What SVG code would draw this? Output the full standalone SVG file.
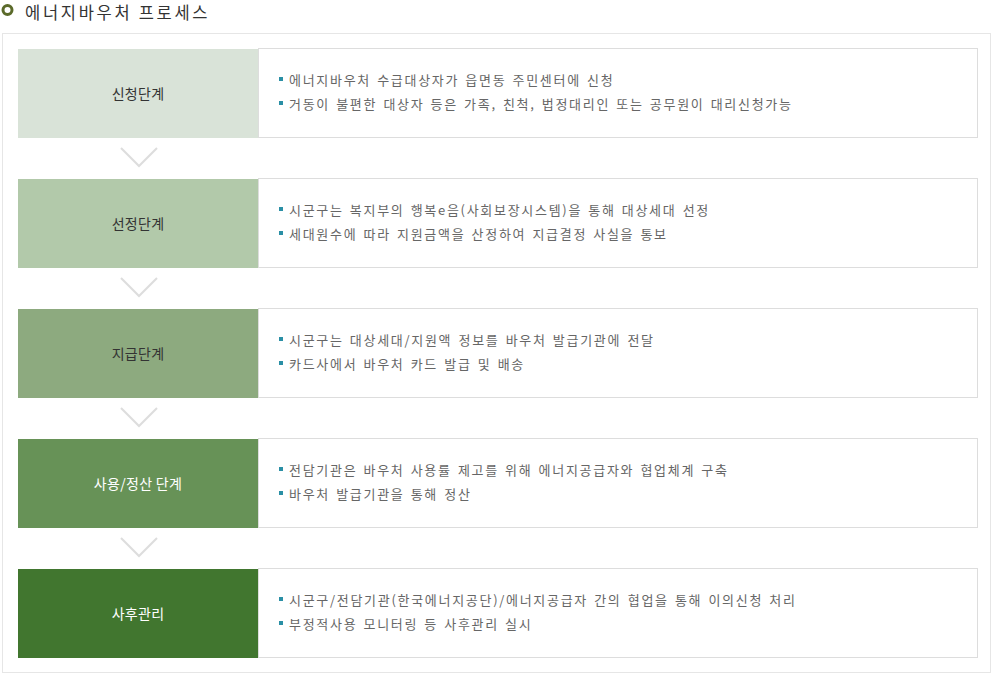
<svg xmlns="http://www.w3.org/2000/svg" width="993" height="676" viewBox="0 0 993 676">
<style>
.t{font-family:"Noto Sans CJK KR","Noto Sans",sans-serif}
.lbl{font-size:14px;text-anchor:middle;dominant-baseline:central;letter-spacing:0.3px}
.dk{fill:#333}
.wh{fill:#fff}
.desc{fill:#fff;stroke:#dddddd;stroke-width:1}
.bt{font-size:13px;fill:#666;letter-spacing:1.7px;word-spacing:1.6px}
.sq{fill:#2a8fa5}
.chev{fill:none;stroke:#dddddd;stroke-width:2}
</style>
<rect x="0" y="0" width="993" height="676" fill="#fff"/>
<g id="title">
<circle cx="7.5" cy="10" r="4.5" fill="none" stroke="#5b6a2a" stroke-width="3"/>
<text class="t" x="25" y="18.5" font-size="16.5" fill="#333" letter-spacing="2.7">에너지바우처 프로세스</text>
</g>
<rect x="2.5" y="33.5" width="988" height="639" fill="#fff" stroke="#e6e6e6"/>
<g id="stage1">
<rect x="18" y="49" width="240" height="89" fill="#d9e3d8"/>
<rect class="desc" x="258.5" y="48.5" width="719" height="89"/>
<text class="t lbl dk" x="138" y="93">신청단계</text>
<rect class="sq" x="279" y="77" width="4" height="4"/><text class="t bt" x="289" y="85">에너지바우처 수급대상자가 읍면동 주민센터에 신청</text>
<rect class="sq" x="279" y="101" width="4" height="4"/><text class="t bt" x="289" y="109">거동이 불편한 대상자 등은 가족, 친척, 법정대리인 또는 공무원이 대리신청가능</text>
</g>
<g id="stage2">
<rect x="18" y="179" width="240" height="89" fill="#b2c9aa"/>
<rect class="desc" x="258.5" y="178.5" width="719" height="89"/>
<text class="t lbl dk" x="138" y="223">선정단계</text>
<rect class="sq" x="279" y="207" width="4" height="4"/><text class="t bt" x="289" y="215">시군구는 복지부의 행복e음(사회보장시스템)을 통해 대상세대 선정</text>
<rect class="sq" x="279" y="231" width="4" height="4"/><text class="t bt" x="289" y="239">세대원수에 따라 지원금액을 산정하여 지급결정 사실을 통보</text>
</g>
<g id="stage3">
<rect x="18" y="309" width="240" height="89" fill="#8daa7f"/>
<rect class="desc" x="258.5" y="308.5" width="719" height="89"/>
<text class="t lbl dk" x="138" y="353">지급단계</text>
<rect class="sq" x="279" y="337" width="4" height="4"/><text class="t bt" x="289" y="345">시군구는 대상세대/지원액 정보를 바우처 발급기관에 전달</text>
<rect class="sq" x="279" y="361" width="4" height="4"/><text class="t bt" x="289" y="369">카드사에서 바우처 카드 발급 및 배송</text>
</g>
<g id="stage4">
<rect x="18" y="439" width="240" height="89" fill="#679257"/>
<rect class="desc" x="258.5" y="438.5" width="719" height="89"/>
<text class="t lbl wh" x="138" y="483">사용/정산 단계</text>
<rect class="sq" x="279" y="467" width="4" height="4"/><text class="t bt" x="289" y="475">전담기관은 바우처 사용률 제고를 위해 에너지공급자와 협업체계 구축</text>
<rect class="sq" x="279" y="491" width="4" height="4"/><text class="t bt" x="289" y="499">바우처 발급기관을 통해 정산</text>
</g>
<g id="stage5">
<rect x="18" y="569" width="240" height="89" fill="#41762f"/>
<rect class="desc" x="258.5" y="568.5" width="719" height="89"/>
<text class="t lbl wh" x="138" y="613">사후관리</text>
<rect class="sq" x="279" y="597" width="4" height="4"/><text class="t bt" x="289" y="605">시군구/전담기관(한국에너지공단)/에너지공급자 간의 협업을 통해 이의신청 처리</text>
<rect class="sq" x="279" y="621" width="4" height="4"/><text class="t bt" x="289" y="629">부정적사용 모니터링 등 사후관리 실시</text>
</g>
<g id="connectors">
<polyline class="chev" points="121,148 139,166 157,148"/>
<polyline class="chev" points="121,278 139,296 157,278"/>
<polyline class="chev" points="121,408 139,426 157,408"/>
<polyline class="chev" points="121,538 139,556 157,538"/>
</g>
</svg>
